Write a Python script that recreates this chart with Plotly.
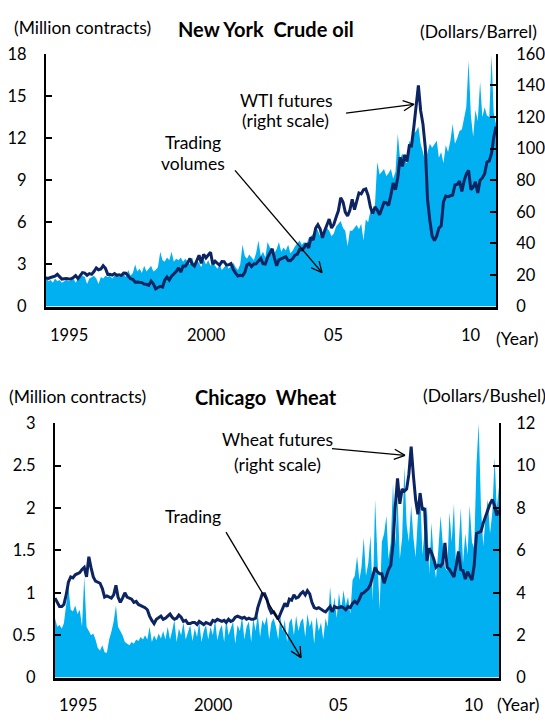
import math
import pandas as pd
import plotly.graph_objects as go

# ---------------- data (monthly, Nov 1994 - Apr 2011) ----------------
months = pd.date_range("1994-11-01", "2011-04-01", freq="MS")

# NYMEX crude oil trading volumes (million contracts, left scale)
crude_volume = [
    2.2, 1.8,
    1.9, 1.7, 2.0, 1.8, 1.9, 1.7, 1.8, 1.9, 1.8, 1.9, 2.0, 1.7,
    2.0, 2.1, 2.2, 2.1, 1.6, 2.0, 2.1, 2.2, 2.0, 1.6, 2.1, 2.0,
    2.2, 2.1, 2.2, 2.0, 2.2, 2.3, 2.1, 2.2, 2.3, 2.1, 2.6, 2.2,
    2.4, 3.0, 2.5, 2.7, 2.4, 2.9, 2.5, 2.7, 2.9, 2.5, 2.6, 2.8,
    3.9, 3.3, 3.2, 3.5, 3.3, 3.9, 3.2, 3.4, 3.3, 3.5, 3.2, 3.4,
    3.2, 3.0, 3.5, 2.9, 3.3, 3.1, 2.8, 3.4, 3.0, 3.3, 2.9, 3.1,
    2.9, 2.7, 3.0, 2.6, 2.8, 3.0, 2.7, 2.9, 3.1, 2.8, 2.6, 3.0,
    4.4, 3.6, 3.4, 3.7, 3.5, 3.3, 3.8, 4.7, 3.6, 3.9, 3.5, 4.6,
    4.2, 4.0, 3.8, 4.1, 4.6, 3.9, 4.2, 4.0, 4.4, 3.8, 4.0, 4.3,
    4.5, 4.7, 4.4, 4.6, 4.4, 4.9, 5.0, 5.2, 5.8, 5.4, 5.0, 5.2,
    5.3, 5.6, 5.4, 5.0, 5.2, 5.7, 5.9, 6.1, 5.6, 5.4, 4.3, 5.4,
    5.4, 5.6, 5.8, 5.5, 5.9, 4.7, 6.2, 6.0, 6.8, 6.5, 7.3, 10.3,
    9.4, 9.6, 9.8, 9.3, 9.5, 9.8, 9.1, 9.6, 12.3, 10.5, 10.9, 10.4,
    10.2, 11.8, 11.5, 12.3, 12.5, 12.8, 11.6, 11.0, 10.3, 11.0, 11.6, 11.3,
    11.6, 11.8, 10.6, 11.0, 10.2, 11.5, 11.0, 11.8, 13.0, 11.6, 12.0, 12.5,
    12.6, 13.4, 14.2, 17.5, 13.6, 12.1, 14.0, 13.2, 16.0, 13.5, 14.2, 13.6,
    13.5, 17.9, 13.8, 13.0,
]

# WTI futures price (dollars per barrel, right scale)
wti_price = [
    18.1, 17.8,
    18.4, 19.0, 19.2, 20.4, 18.9, 17.4, 17.6, 17.8, 17.5, 17.6, 18.4, 19.6,
    17.7, 19.5, 21.5, 21.2, 19.8, 20.9, 20.4, 22.2, 24.4, 23.3, 23.8, 25.9,
    24.2, 20.3, 20.4, 19.9, 20.9, 19.8, 20.1, 19.6, 21.2, 21.1, 19.2, 17.6,
    17.2, 15.4, 15.6, 15.4, 15.2, 14.2, 14.1, 13.4, 16.1, 14.4, 11.2, 12.1,
    12.8, 12.3, 16.7, 18.7, 16.8, 19.3, 20.5, 22.1, 24.5, 21.8, 25.7, 25.6,
    27.6, 30.4, 26.9, 25.7, 29.0, 32.5, 27.4, 33.1, 30.8, 32.7, 34.4, 26.8,
    28.7, 27.4, 26.3, 28.5, 28.4, 26.3, 26.4, 27.2, 23.4, 21.2, 19.4, 19.8,
    19.5, 21.7, 26.3, 27.3, 25.3, 26.9, 27.0, 28.9, 30.5, 27.2, 26.9, 31.2,
    33.5, 36.6, 31.0, 25.8, 29.6, 30.2, 30.5, 31.6, 29.2, 29.1, 30.4, 32.5,
    33.1, 36.2, 35.8, 37.4, 39.9, 37.1, 43.8, 42.1, 49.6, 51.8, 49.1, 43.5,
    48.2, 51.8, 55.4, 49.7, 52.0, 56.5, 60.6, 68.9, 66.2, 59.8, 57.3, 61.0,
    67.9, 61.4, 66.6, 71.9, 71.3, 73.9, 74.4, 70.3, 62.9, 58.7, 63.1, 61.1,
    58.1, 61.8, 65.9, 65.7, 64.0, 70.7, 78.2, 74.0, 81.7, 94.5, 88.7, 96.0,
    91.8, 101.8, 101.6, 113.5, 127.4, 140.0, 124.1, 115.5, 100.6, 67.8, 54.4, 44.6,
    41.7, 44.8, 49.7, 51.1, 66.3, 69.9, 69.5, 70.0, 70.6, 77.0, 77.3, 79.4,
    72.9, 79.7, 83.8, 86.2, 74.0, 75.6, 79.0, 71.9, 80.0, 81.4, 84.1, 91.4,
    92.2, 97.0, 106.7, 113.9,
]

# CBOT wheat trading volumes (million contracts, left scale)
wheat_volume = [
    0.7, 0.6,
    0.62, 0.58, 0.64, 0.85, 1.07, 0.8, 0.78, 0.85, 0.75, 0.8, 0.6, 1.19,
    0.6, 0.55, 0.5, 0.52, 0.45, 0.35, 0.32, 0.38, 0.3, 0.29, 0.45, 0.54,
    0.66, 0.85, 0.6, 0.55, 0.5, 0.42, 0.4, 0.38, 0.42, 0.4, 0.45, 0.43,
    0.48, 0.45, 0.5, 0.45, 0.6, 0.42, 0.5, 0.44, 0.52, 0.46, 0.55, 0.45,
    0.6, 0.45, 0.55, 0.68, 0.42, 0.58, 0.5, 0.65, 0.45, 0.55, 0.62, 0.43,
    0.58, 0.48, 0.66, 0.42, 0.55, 0.62, 0.45, 0.6, 0.5, 0.68, 0.44, 0.56,
    0.62, 0.42, 0.7, 0.5, 0.58, 0.66, 0.4, 0.62, 0.55, 0.72, 0.45, 0.6,
    0.66, 0.42, 0.7, 0.55, 0.75, 0.48, 0.68, 0.62, 0.72, 0.45, 0.65, 0.7,
    0.6, 0.45, 0.72, 0.55, 0.68, 0.42, 0.65, 0.7, 0.5, 0.73, 0.55, 0.66,
    0.7, 0.48, 0.75, 0.6, 0.68, 0.4, 0.72, 0.55, 0.65, 0.45, 0.7, 0.6,
    1.07, 0.75, 0.95, 0.7, 1.0, 0.8, 1.03, 0.85, 0.95, 0.75, 1.15, 1.2,
    1.43, 1.15, 1.3, 1.65, 1.2, 1.35, 1.68, 0.9, 2.1, 1.5, 0.8, 1.6,
    1.7, 1.91, 1.4, 1.6, 2.29, 1.57, 2.14, 1.4, 1.65, 2.49, 1.8, 1.6,
    2.03, 1.65, 1.42, 1.9, 2.22, 1.45, 1.7, 2.03, 1.22, 1.83, 1.4, 1.17,
    1.5, 1.91, 1.6, 1.3, 1.26, 1.95, 1.6, 2.05, 1.22, 1.5, 2.0, 1.35,
    1.7, 1.45, 2.03, 1.6, 1.53, 2.52, 3.0, 2.0, 1.55, 1.9, 2.1, 1.7,
    1.95, 2.6, 2.0, 2.25,
]

# Wheat futures price (dollars per bushel, right scale)
wheat_price = [
    3.75, 3.55,
    3.35, 3.35, 3.45, 3.9, 4.5, 4.75, 4.7, 4.85, 4.9, 4.95, 5.1, 5.2,
    4.75, 5.7, 5.2, 4.75, 4.55, 4.5, 4.45, 4.2, 3.8, 3.85, 3.8, 3.75,
    3.9, 4.35, 3.8, 3.55, 3.75, 4.0, 3.8, 3.75, 3.7, 3.55, 3.6, 3.45,
    3.4, 3.35, 3.3, 3.2, 2.9, 2.7, 2.55, 2.75, 2.85, 2.9, 2.75, 2.8,
    2.9, 3.0, 2.85, 2.75, 2.8, 2.95, 2.85, 2.65, 2.7, 2.55, 2.55, 2.6,
    2.6, 2.5, 2.65, 2.55, 2.5, 2.6, 2.55, 2.5, 2.7, 2.65, 2.75, 2.7,
    2.65, 2.7, 2.6, 2.75, 2.65, 2.7, 2.85, 2.9, 2.85, 2.8, 2.85, 2.75,
    2.8, 2.75, 2.75, 2.8, 3.3, 3.6, 3.95, 3.95, 3.7, 3.3, 3.05, 3.1,
    2.9, 2.75, 3.0, 3.3, 3.5, 3.35, 3.7, 3.65, 3.9, 3.75, 3.8, 3.95,
    4.05, 3.9, 4.1, 3.95, 3.55, 3.3, 3.25, 3.3, 3.2, 3.15, 3.1, 3.2,
    3.35, 3.1, 3.35, 3.3, 3.3, 3.35, 3.3, 3.2, 3.35, 3.3, 3.5, 3.6,
    3.5, 3.7, 3.95, 4.0, 4.1, 4.2, 4.4, 4.8, 5.2, 5.0, 4.9, 4.9,
    4.45, 4.8, 5.1, 5.3, 6.3, 8.1, 9.4, 8.2, 8.9, 8.8, 8.9, 9.6,
    10.9, 9.5, 8.4, 7.7, 8.7, 7.9, 8.0, 5.5, 6.1, 5.9, 5.6, 5.2,
    5.3, 5.25, 5.4, 6.35, 5.2, 5.1, 4.9, 4.75, 5.3, 5.95, 5.1, 5.05,
    4.65, 5.0, 4.8, 4.6, 5.3, 6.8, 6.85, 6.9, 7.3, 7.6, 7.9, 8.2,
    8.4, 8.1, 7.65, 7.9,
]

year_ticks = ["1995-01-01", "2000-01-01", "2005-01-01", "2010-01-01"]
year_labels = ["1995", "2000", "05", "10"]

# ---------------- styling ----------------
W, H = 545, 725
FONT = "Lato"
AREA = "#00B0F0"
LINE = "#0C2462"
TXT = 17.5


def P(px, py):
    return px / W, 1 - py / H


fig = go.Figure()

fig.add_trace(go.Scatter(x=months, y=crude_volume, mode="lines", fill="tozeroy",
                         line=dict(width=0, color=AREA), fillcolor=AREA,
                         xaxis="x", yaxis="y", showlegend=False))
fig.add_trace(go.Scatter(x=months, y=wti_price, mode="lines",
                         line=dict(width=3, color=LINE),
                         xaxis="x", yaxis="y2", showlegend=False))
fig.add_trace(go.Scatter(x=months, y=wheat_volume, mode="lines", fill="tozeroy",
                         line=dict(width=0, color=AREA), fillcolor=AREA,
                         xaxis="x2", yaxis="y3", showlegend=False))
fig.add_trace(go.Scatter(x=months, y=wheat_price, mode="lines",
                         line=dict(width=3, color=LINE),
                         xaxis="x2", yaxis="y4", showlegend=False))

tickfont = dict(family=FONT, size=16.5, color="black")
yax_common = dict(ticks="inside", ticklen=6, tickwidth=2, tickcolor="black",
                  showline=True, linecolor="black", linewidth=2,
                  showgrid=False, zeroline=False, tickfont=tickfont,
                  fixedrange=True)
xax_common = dict(type="date", showline=True, linecolor="black", linewidth=2.5,
                  showgrid=False, zeroline=False, ticks="", showticklabels=False,
                  range=[months[0], months[-1]])

top_y = [(H - 305) / H, (H - 45) / H]
bot_y = [(H - 686.5) / H, (H - 425) / H]

fig.update_layout(
    width=W, height=H,
    margin=dict(l=0, r=0, t=0, b=0),
    paper_bgcolor="white", plot_bgcolor="white",
    font=dict(family=FONT, color="black"),
    xaxis=dict(domain=[46 / W, 496 / W], anchor="y", **xax_common),
    yaxis=dict(domain=top_y, range=[0, 18], dtick=3, anchor="x",
               ticklabelstandoff=14, **yax_common),
    yaxis2=dict(range=[0, 160], dtick=20, overlaying="y", side="right", anchor="x",
                ticklabelstandoff=15, **yax_common),
    xaxis2=dict(domain=[55 / W, 499 / W], anchor="y3", **xax_common),
    yaxis3=dict(domain=bot_y, range=[0, 3], dtick=0.5, anchor="x2",
                ticklabelstandoff=14, **yax_common),
    yaxis4=dict(range=[0, 12], dtick=2, overlaying="y3", side="right", anchor="x2",
                ticklabelstandoff=12, **yax_common),
)

ann = []


def text(px, py, s, size=TXT, bold=False, xanchor="center"):
    x, y = P(px, py)
    ann.append(dict(x=x, y=y, xref="paper", yref="paper", text=f"<b>{s}</b>" if bold else s,
                    showarrow=False, xanchor=xanchor, yanchor="middle",
                    font=dict(family=FONT, size=size, color="black")))


# titles and units
text(266, 20, "New York  Crude oil", size=20, bold=True)
text(82, 18, "(Million contracts)")
text(478, 22, "(Dollars/Barrel)")
text(266, 398, "Chicago  Wheat", size=20, bold=True)
text(77, 397, "(Million contracts)")
text(484, 396, "(Dollars/Bushel)")

# inline labels
text(286, 93, "WTI futures")
text(285, 114, "(right scale)")
text(193, 136, "Trading")
text(193, 158, "volumes")
text(277, 442, "Wheat futures")
text(277, 467, "(right scale)")
text(193, 521, "Trading")

# year labels (left-aligned at January of each year)
for xref, py in (("x", 334), ("x2", 715)):
    for tv, tl in zip(year_ticks, year_labels):
        ann.append(dict(x=tv, y=1 - py / H, xref=xref, yref="paper", text=tl,
                        showarrow=False, xanchor="left", yanchor="middle", xshift=-3,
                        font=dict(family=FONT, size=16.5, color="black")))
text(517, 338, "(Year)")
text(518, 714, "(Year)")

fig.update_layout(annotations=ann)

# arrows with open heads
shapes = []


def seg(a, b, w=1.3):
    x0, y0 = P(*a)
    x1, y1 = P(*b)
    shapes.append(dict(type="line", xref="paper", yref="paper", x0=x0, y0=y0, x1=x1, y1=y1,
                       line=dict(color="black", width=w)))


def arrow(tail, tip, head=12, ang=26):
    seg(tail, tip)
    dx, dy = tail[0] - tip[0], tail[1] - tip[1]
    L = math.hypot(dx, dy)
    ux, uy = dx / L, dy / L
    for s in (1, -1):
        a = math.radians(ang * s)
        hx = ux * math.cos(a) - uy * math.sin(a)
        hy = ux * math.sin(a) + uy * math.cos(a)
        seg(tip, (tip[0] + head * hx, tip[1] + head * hy))


arrow((346, 106), (414, 97))
arrow((235, 165), (322, 270))
arrow((332, 451), (405, 458))
arrow((226, 537), (301, 666))

fig.update_layout(shapes=shapes)

fig.write_html("out.html",
               config={"displayModeBar": False},
               post_script="document.body.style.margin='0px';"
                           "document.body.style.overflow='hidden';")
